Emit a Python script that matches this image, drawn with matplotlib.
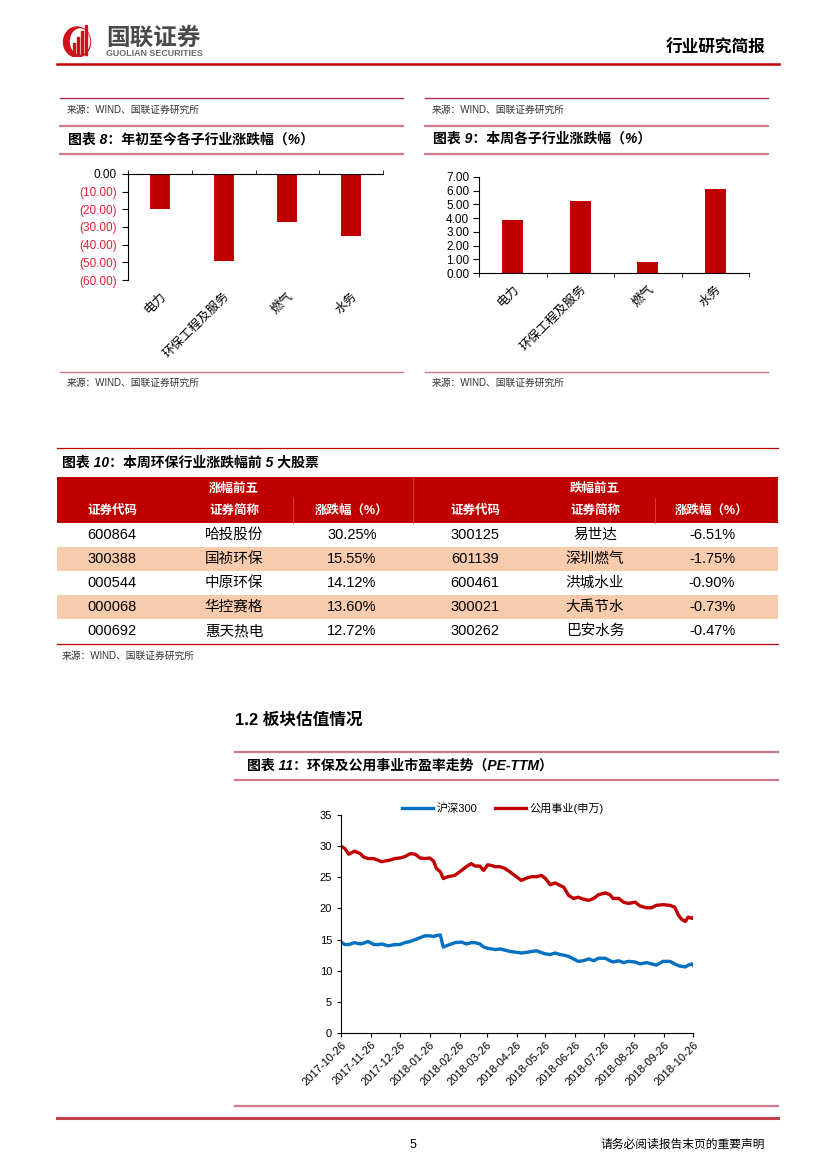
import numpy as np
import pandas as pd
import matplotlib
matplotlib.use('Agg')
from matplotlib import pyplot as plt
from matplotlib.lines import Line2D
from matplotlib.patches import Rectangle, Ellipse

plt.rcParams['font.family'] = ['Liberation Sans', 'Noto Sans CJK SC', 'DejaVu Sans']

W, H = 827, 1169
RED = '#C00000'
PINK = '#CF7A8A'

# 图表8 / 图表9
sectors = ['电力', '环保工程及服务', '燃气', '水务']
ytd_chg = [-19.8, -49.1, -27.2, -35.3]
week_chg = [3.85, 5.26, 0.78, 6.10]

# 图表10
tbl_cols = ['证券代码', '证券简称', '涨跌幅（%）']
up_code = ['600864', '300388', '000544', '000068', '000692']
up_name = ['哈投股份', '国祯环保', '中原环保', '华控赛格', '惠天热电']
up_pct = [30.25, 15.55, 14.12, 13.60, 12.72]
down_code = ['300125', '601139', '600461', '300021', '300262']
down_name = ['易世达', '深圳燃气', '洪城水业', '大禹节水', '巴安水务']
down_pct = [-6.51, -1.75, -0.90, -0.73, -0.47]

# 图表11
pe_dates = ['2017-10-26', '2017-10-30', '2017-11-03', '2017-11-09', '2017-11-15', '2017-11-18',
            '2017-11-23', '2017-11-29', '2017-12-04', '2017-12-07', '2017-12-14', '2017-12-21',
            '2017-12-26', '2017-12-31', '2018-01-06', '2018-01-11', '2018-01-16', '2018-01-21',
            '2018-01-26', '2018-01-30', '2018-02-02', '2018-02-06', '2018-02-09', '2018-02-14',
            '2018-02-21', '2018-02-28', '2018-03-05', '2018-03-10', '2018-03-14', '2018-03-19',
            '2018-03-23', '2018-03-27', '2018-03-31', '2018-04-04', '2018-04-09', '2018-04-14',
            '2018-04-19', '2018-04-24', '2018-05-01', '2018-05-07', '2018-05-12', '2018-05-17',
            '2018-05-22', '2018-05-26', '2018-05-31', '2018-06-05', '2018-06-10', '2018-06-14',
            '2018-06-19', '2018-06-24', '2018-06-29', '2018-07-04', '2018-07-10', '2018-07-15',
            '2018-07-20', '2018-07-27', '2018-08-01', '2018-08-04', '2018-08-10', '2018-08-15',
            '2018-08-20', '2018-08-27', '2018-09-01', '2018-09-08', '2018-09-13', '2018-09-18',
            '2018-09-25', '2018-10-02', '2018-10-07', '2018-10-11', '2018-10-14', '2018-10-18',
            '2018-10-21', '2018-10-25', '2018-10-26']
util_pe = [30.0, 29.6, 28.7, 29.2, 28.8, 28.3, 28.0, 28.0, 27.7, 27.5,
           27.7, 28.0, 28.1, 28.3, 28.8, 28.7, 28.1, 28.0, 28.1, 27.6,
           26.4, 25.9, 24.8, 25.1, 25.3, 26.1, 26.7, 27.2, 26.8, 26.8,
           26.1, 27.0, 26.9, 26.7, 26.7, 26.4, 25.9, 25.3, 24.5, 24.9,
           25.1, 25.1, 25.3, 24.8, 23.8, 24.1, 23.7, 23.4, 22.1, 21.6,
           21.8, 21.5, 21.3, 21.6, 22.2, 22.5, 22.2, 21.6, 21.6, 21.0,
           20.8, 21.0, 20.4, 20.1, 20.1, 20.5, 20.6, 20.5, 20.2, 18.9,
           18.3, 17.9, 18.6, 18.4, 18.5]
hs300_pe = [14.6, 14.2, 14.2, 14.5, 14.3, 14.4, 14.7, 14.2, 14.2, 14.3,
            14.0, 14.2, 14.2, 14.5, 14.7, 15.0, 15.3, 15.6, 15.6, 15.5,
            15.65, 15.75, 13.8, 14.1, 14.5, 14.6, 14.3, 14.5, 14.5, 14.3,
            13.8, 13.6, 13.5, 13.4, 13.5, 13.3, 13.1, 13.0, 12.85, 12.95,
            13.1, 13.2, 12.9, 12.7, 12.6, 12.85, 12.6, 12.5, 12.3, 11.9,
            11.5, 11.6, 11.9, 11.6, 12.0, 12.0, 11.6, 11.4, 11.6, 11.3,
            11.5, 11.4, 11.1, 11.3, 11.1, 10.9, 11.5, 11.5, 11.1, 10.8,
            10.7, 10.6, 10.9, 11.1, 10.9]
date_ticks = ['2017-10-26', '2017-11-26', '2017-12-26', '2018-01-26', '2018-02-26', '2018-03-26',
              '2018-04-26', '2018-05-26', '2018-06-26', '2018-07-26', '2018-08-26', '2018-09-26',
              '2018-10-26']

fig = plt.figure(figsize=(W / 100, H / 100), dpi=100)


def fx(x):
    return x / W


def fy(y):
    return 1 - y / H


def hline(x0, x1, y, color, lw):
    fig.add_artist(Line2D([fx(x0), fx(x1)], [fy(y), fy(y)], color=color, lw=lw,
                          transform=fig.transFigure))


def ftext(x, y, s, **kw):
    kw.setdefault('va', 'center')
    fig.text(fx(x), fy(y), s, **kw)


def frect(x0, y0, x1, y1, color):
    fig.add_artist(Rectangle((fx(x0), fy(y1)), fx(x1) - fx(x0), fy(y0) - fy(y1),
                             facecolor=color, edgecolor='none', transform=fig.transFigure))


# ---- header ----
axl = fig.add_axes([fx(62), fy(57), fx(32), 32 / H])
axl.set_xlim(0, 32); axl.set_ylim(0, 32); axl.axis('off')
axl.add_patch(Ellipse((15, 15), 27, 30, color='#D0101A'))
axl.add_patch(Ellipse((18, 15.5), 19, 25, color='white'))
for bx, bh in zip([11, 15, 19, 23], [12, 18, 24, 30]):
    axl.add_patch(Rectangle((bx, 2), 2.2, bh, color='#D0101A'))
ftext(106, 38, '国联证券', fontsize=17, fontweight='bold', color='#4A4A4A')
ftext(106, 53, 'GUOLIAN SECURITIES', fontsize=6.4, fontweight='bold', color='#6A6A6A')
ftext(765, 48, '行业研究简报', fontsize=12, fontweight='bold', ha='right')
hline(57, 779, 64, RED, 1.8)

# ---- 图表8 / 图表9 frames ----
src = '来源：WIND、国联证券研究所'
for x0, x1, title in [(60, 403, '图表 8：年初至今各子行业涨跌幅（%）'),
                      (425, 768, '图表 9：本周各子行业涨跌幅（%）')]:
    hline(x0, x1, 98, '#A8324E', 1.0)
    ftext(x0 + 7, 110, src, fontsize=7, color='#333333')
    hline(x0, x1, 126, PINK, 1.6)
    ftext(x0 + 8, 139, title, fontsize=10, fontweight='bold', fontstyle='italic')
    hline(x0, x1, 154, PINK, 1.6)
    hline(x0, x1, 372, PINK, 1.0)
    ftext(x0 + 7, 383, src, fontsize=7, color='#333333')

xpos = np.arange(len(sectors))

ax8 = fig.add_axes([fx(128), fy(280), fx(383) - fx(128), 106 / H])
ax8.bar(xpos, ytd_chg, width=0.31, color=RED)
ax8.set_xlim(-0.5, 3.5)
ax8.set_ylim(-60, 0)
yt8 = np.arange(-60, 1, 10)
ax8.set_yticks(yt8)
ax8.set_yticklabels(['0.00' if v == 0 else '(%.2f)' % abs(v) for v in yt8], fontsize=8.5)
for t, v in zip(ax8.get_yticklabels(), yt8):
    t.set_color('black' if v == 0 else '#E0203A')
ax8.spines['right'].set_visible(False)
ax8.spines['bottom'].set_visible(False)
ax8.set_xticks(xpos)
ax8.set_xticklabels(sectors, rotation=45, ha='right', rotation_mode='anchor', fontsize=9)
ax8.set_xticks(np.arange(-0.5, 4, 1), minor=True)
ax8.tick_params(axis='x', which='major', length=0, pad=7)
ax8.tick_params(axis='x', which='minor', bottom=False, top=True, length=3)
ax8.tick_params(axis='y', length=4, pad=4)

ax9 = fig.add_axes([fx(479), fy(273), fx(749) - fx(479), 96 / H])
ax9.bar(xpos, week_chg, width=0.31, color=RED)
ax9.set_xlim(-0.5, 3.5)
ax9.set_ylim(0, 7)
ax9.set_yticks(np.arange(0, 8, 1))
ax9.set_yticklabels(['%.2f' % v for v in np.arange(0, 8, 1)], fontsize=8.5)
ax9.spines['right'].set_visible(False)
ax9.spines['top'].set_visible(False)
ax9.set_xticks(xpos)
ax9.set_xticklabels(sectors, rotation=45, ha='right', rotation_mode='anchor', fontsize=9)
ax9.set_xticks(np.arange(-0.5, 4, 1), minor=True)
ax9.tick_params(axis='x', which='major', length=0, pad=7)
ax9.tick_params(axis='x', which='minor', length=3)
ax9.tick_params(axis='y', length=4, pad=3)

# ---- 图表10 table ----
hline(57, 778, 448, RED, 0.9)
ftext(62, 463, '图表 10：本周环保行业涨跌幅前 5 大股票', fontsize=10, fontweight='bold', fontstyle='italic')
frect(57, 477, 778, 523, RED)
fig.add_artist(Line2D([fx(413), fx(413)], [fy(477), fy(523)], color='#D84848', lw=0.6,
                      transform=fig.transFigure))
for sx in [293, 655]:
    fig.add_artist(Line2D([fx(sx), fx(sx)], [fy(498), fy(523)], color='#D84848', lw=0.6,
                          transform=fig.transFigure))
col_x = [112, 234, 352, 475, 595, 712]
ftext(234, 489, '涨幅前五', fontsize=9, fontweight='bold', color='white', ha='center')
ftext(595, 489, '跌幅前五', fontsize=9, fontweight='bold', color='white', ha='center')
for cx, name in zip(col_x, tbl_cols + tbl_cols):
    ftext(cx, 511, name, fontsize=9, fontweight='bold', color='white', ha='center')
row_h = 24
for i in range(len(up_code)):
    y0 = 523 + i * row_h
    if i % 2 == 1:
        frect(57, y0, 778, y0 + row_h, '#F8CBAD')
    yc = y0 + row_h / 2
    vals = [up_code[i], up_name[i], '%.2f%%' % up_pct[i],
            down_code[i], down_name[i], '%.2f%%' % down_pct[i]]
    for cx, v in zip(col_x, vals):
        ftext(cx, yc, v, fontsize=10.5, ha='center')
hline(57, 778, 644, RED, 0.9)
ftext(62, 656, src, fontsize=7, color='#333333')

# ---- 1.2 ----
ftext(235, 720, '1.2 板块估值情况', fontsize=12, fontweight='bold')

# ---- 图表11 ----
hline(235, 778, 752, PINK, 1.6)
ftext(247, 766, '图表 11：环保及公用事业市盈率走势（PE-TTM）', fontsize=10, fontweight='bold',
      fontstyle='italic')
hline(235, 778, 780, PINK, 1.6)
hline(235, 778, 1106, PINK, 1.6)

ax11 = fig.add_axes([fx(341), fy(1033), fx(693) - fx(341), 218 / H])
d = pd.to_datetime(pe_dates)
l1, = ax11.plot(d, hs300_pe, color='#0070C0', lw=2.4)
l2, = ax11.plot(d, util_pe, color=RED, lw=2.4)
ax11.set_ylim(0, 35)
ax11.set_yticks(range(0, 36, 5))
ax11.set_xlim(d[0], d[-1])
ax11.set_xticks(pd.to_datetime(date_ticks))
ax11.set_xticklabels(date_ticks, rotation=45, ha='right', rotation_mode='anchor')
ax11.tick_params(axis='both', length=3, labelsize=8)
ax11.tick_params(axis='x', labelsize=8, pad=2)
ax11.spines['top'].set_visible(False)
ax11.spines['right'].set_visible(False)
fig.legend([l1, l2], ['沪深300', '公用事业(申万)'], loc='center', bbox_to_anchor=(fx(503), fy(808)),
           ncol=2, frameon=False, fontsize=8, handlelength=2.8, columnspacing=1.6,
           handletextpad=0.3)

# ---- footer ----
hline(57, 778, 1118, '#C0404A', 2.2)
ftext(413, 1145, '5', fontsize=9, ha='center')
ftext(765, 1145, '请务必阅读报告末页的重要声明', fontsize=8.5, ha='right')

fig.savefig('out.png', dpi=100)
